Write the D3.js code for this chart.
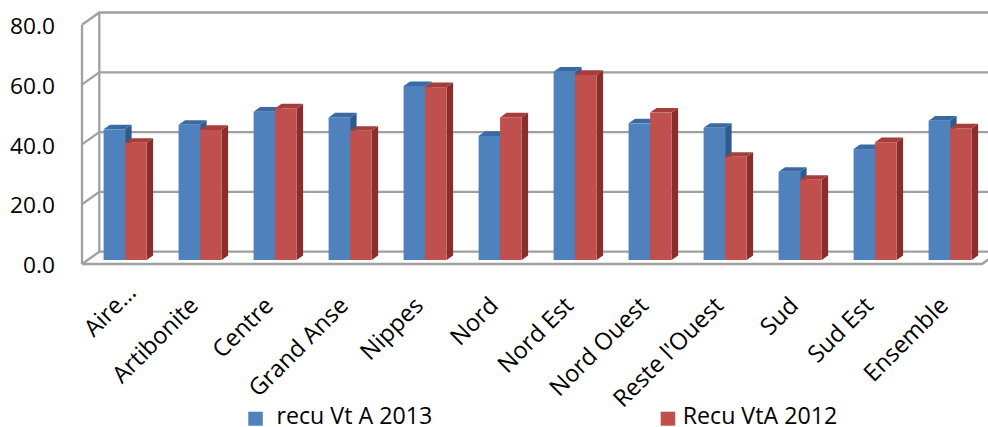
<!DOCTYPE html>
<html>
<head>
<meta charset="utf-8">
<script src="https://cdn.jsdelivr.net/npm/d3@7"></script>
<style>
  html, body { margin: 0; padding: 0; background: #fff; }
  svg text { font-family: "Open Sans", "Liberation Sans", sans-serif; fill: #000; }
</style>
</head>
<body>
<svg id="chart" width="988" height="427"></svg>
<script>
const categories = ["Aire\u2026", "Artibonite", "Centre", "Grand Anse", "Nippes", "Nord",
  "Nord Est", "Nord Ouest", "Reste l'Ouest", "Sud", "Sud Est", "Ensemble"];
const seriesNames = ["recu Vt A 2013", "Recu VtA 2012"];
const values2013 = [43.7, 45.2, 49.6, 47.7, 58.2, 41.5, 63.0, 45.7, 44.2, 29.5, 37.1, 46.6];
const values2012 = [39.2, 43.5, 50.7, 43.2, 57.8, 47.7, 61.9, 49.3, 34.5, 26.8, 39.4, 44.0];
const yTicks = [0, 20, 40, 60, 80];

const series = [values2013, values2012];
const colors = [
  { front: "#4F81BD", top: "#3B6AA3", side: "#2F5A8E" },
  { front: "#C0504D", top: "#A53E3B", side: "#8A2E2C" }
];

const svg = d3.select("#chart");
svg.append("rect").attr("width", 988).attr("height", 427).attr("fill", "#fff");

// geometry
const x0 = 82, x1 = 982;
const y = d3.scaleLinear().domain([0, 80]).range([264, 24.8]);
const wall = { dx: 17.3, dy: -12.3 };
const barOff = { dx: 5.6, dy: -4.0 };
const barDepth = { dx: 6.5, dy: -4.6 };

const x = d3.scaleBand().domain(categories).range([x0, x1])
  .paddingInner(0.4267).paddingOuter(0.21335);
const xs = d3.scaleBand().domain([0, 1]).range([0, x.bandwidth()]);

const gridColor = "#a0a0a0";
const grid = svg.append("g").attr("fill", "none").attr("stroke", gridColor)
  .attr("stroke-width", 2.3);

yTicks.forEach(t => {
  const yy = y(t);
  grid.append("polyline")
    .attr("points", [[x0, yy], [x0 + wall.dx, yy + wall.dy], [1000, yy + wall.dy]].map(p => p.join(",")).join(" "));
});
grid.append("line").attr("x1", x0 + wall.dx).attr("x2", x0 + wall.dx)
  .attr("y1", y(0) + wall.dy).attr("y2", y(80) + wall.dy);
grid.append("line").attr("x1", x0).attr("x2", x0).attr("y1", y(0)).attr("y2", y(80));
grid.append("polyline")
  .attr("points", [[x0, y(0)], [x1, y(0)], [x1 + wall.dx, y(0) + wall.dy]].map(p => p.join(",")).join(" "));

// bars
const bars = svg.append("g");
categories.forEach((c, i) => {
  series.forEach((vals, s) => {
    const v = vals[i];
    const bx = x(c) + xs(s) + barOff.dx;
    const bw = xs.bandwidth();
    const base = y(0) + barOff.dy;
    const top = y(v) + barOff.dy;
    const col = colors[s];
    const d = barDepth;
    const g = bars.append("g");
    g.append("polygon").attr("fill", col.side)
      .attr("points", [[bx + bw, base], [bx + bw + d.dx, base + d.dy], [bx + bw + d.dx, top + d.dy], [bx + bw, top]].map(p => p.join(",")).join(" "));
    g.append("polygon").attr("fill", col.top)
      .attr("points", [[bx, top], [bx + d.dx, top + d.dy], [bx + bw + d.dx, top + d.dy], [bx + bw, top]].map(p => p.join(",")).join(" "));
    g.append("rect").attr("fill", col.front)
      .attr("x", bx).attr("y", top).attr("width", bw).attr("height", base - top);
  });
});

// y labels
const fsY = 22.7;
svg.append("g").selectAll("text").data(yTicks).join("text")
  .attr("x", 55).attr("y", d => y(d) + 1 + 0.357 * fsY)
  .attr("text-anchor", "end").attr("font-size", fsY)
  .text(d => d.toFixed(1));

// category labels (first, truncated label sits further up-right, as in the source)
const fsX = 23.6;
svg.append("g").selectAll("text").data(categories).join("text")
  .attr("text-anchor", "end").attr("font-size", fsX)
  .attr("transform", (d, i) => {
    let cx = x(d) + x.bandwidth() / 2 + barOff.dx - 0.5;
    let cy = 307;
    if (i === 0) { cx += 13; cy -= 13; }
    return `translate(${cx},${cy}) rotate(-45)`;
  })
  .text(d => d);

// legend
const fsL = 23.2;
const legendPos = [{ sx: 248.3, tx: 276.5 }, { sx: 660.7, tx: 682.7 }];
const legend = svg.append("g");
seriesNames.forEach((n, s) => {
  legend.append("rect").attr("x", legendPos[s].sx).attr("y", 411.7)
    .attr("width", 14.5).attr("height", 14).attr("fill", colors[s].front);
  legend.append("text").attr("x", legendPos[s].tx).attr("y", 423.5)
    .attr("font-size", fsL).text(n);
});
</script>
</body>
</html>
